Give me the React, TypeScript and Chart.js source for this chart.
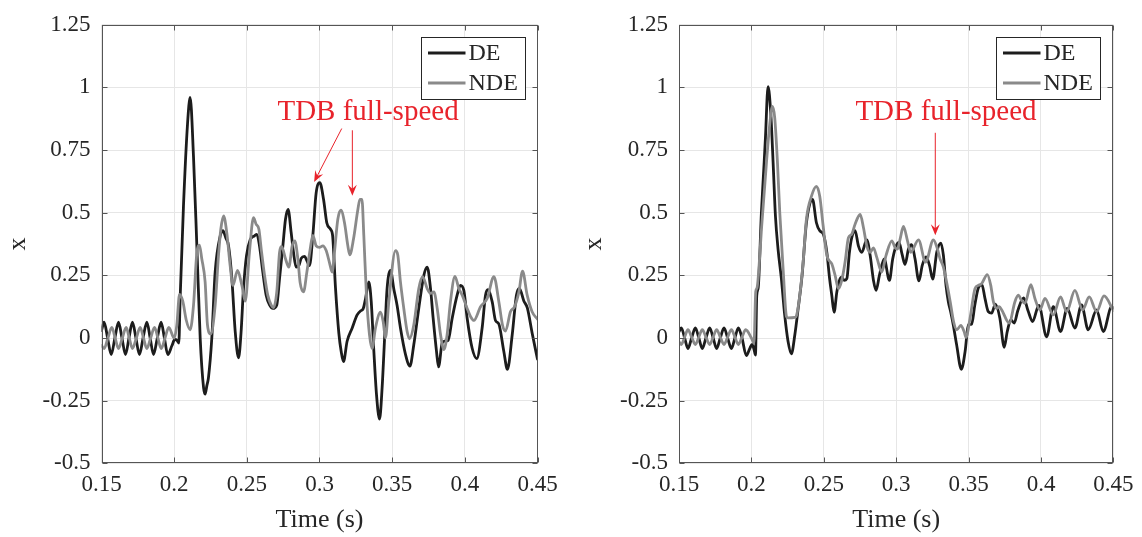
import React, { useEffect, useRef } from "react";
import { Chart, registerables } from "chart.js";

Chart.register(...registerables);

// Axis ticks shared by both panels
const xTicks = [0.15, 0.2, 0.25, 0.3, 0.35, 0.4, 0.45];
const xTickLabels = ["0.15", "0.2", "0.25", "0.3", "0.35", "0.4", "0.45"];
const yTicks = [-0.5, -0.25, 0, 0.25, 0.5, 0.75, 1, 1.25];
const yTickLabels = ["-0.5", "-0.25", "0", "0.25", "0.5", "0.75", "1", "1.25"];
const seriesNames = ["DE", "NDE"];
const xTitle = "Time (s)";
const yTitle = "x";
const noteText = "TDB full-speed";

// Left panel, DE response
const leftDeTime = [
  0.15, 0.1518, 0.1542, 0.1567, 0.1592, 0.1617, 0.1641, 0.1665, 0.1689, 0.1713, 0.1737, 0.1761,
  0.1786, 0.1812, 0.1835, 0.1858, 0.1884, 0.191, 0.1933, 0.1956, 0.1985, 0.2005, 0.202, 0.2032,
  0.2041, 0.2064, 0.2092, 0.211, 0.2133, 0.2156, 0.2179, 0.2202, 0.2213, 0.2225, 0.2236, 0.2259,
  0.2282, 0.2317, 0.2335, 0.2355, 0.2374, 0.2397, 0.242, 0.2443, 0.246, 0.2477, 0.2498, 0.2523,
  0.2553, 0.2569, 0.2587, 0.261, 0.2633, 0.2656, 0.2679, 0.2706, 0.2725, 0.2748, 0.2766, 0.2784,
  0.2805, 0.2821, 0.2839, 0.2858, 0.2874, 0.2897, 0.2913, 0.2931, 0.2954, 0.2977, 0.3002, 0.3028,
  0.305, 0.3076, 0.309, 0.311, 0.3133, 0.3149, 0.3165, 0.319, 0.3225, 0.3259, 0.3282, 0.33,
  0.3317, 0.3339, 0.3356, 0.3374, 0.3392, 0.3413, 0.3431, 0.3449, 0.3465, 0.3489, 0.3511, 0.3534,
  0.3557, 0.3592, 0.3622, 0.3649, 0.3683, 0.3718, 0.3741, 0.3764, 0.3782, 0.3805, 0.3819, 0.3844,
  0.3862, 0.3885, 0.3913, 0.3947, 0.397, 0.3993, 0.4016, 0.405, 0.4082, 0.4119, 0.4142, 0.4158,
  0.4188, 0.4211, 0.4234, 0.4268, 0.4293, 0.4326, 0.4355, 0.4375, 0.4406, 0.443, 0.4463, 0.45,
];
const leftDeValue = [
  0.03, 0.063, 0.0, -0.066, 0.0, 0.063, 0.0, -0.066, 0.0, 0.063, 0.0, -0.066,
  0.0, 0.063, 0.0, -0.066, 0.0, 0.063, 0.0, -0.066, -0.03, -0.005, -0.01, -0.02,
  0.158, 0.526, 0.855, 0.96, 0.724, 0.368, 0.0, -0.197, -0.224, -0.19, -0.158, 0.0,
  0.263, 0.408, 0.428, 0.4, 0.368, 0.237, 0.026, -0.079, 0.02, 0.197, 0.33, 0.392,
  0.408, 0.414, 0.368, 0.263, 0.171, 0.132, 0.118, 0.132, 0.237, 0.368, 0.474, 0.513,
  0.421, 0.342, 0.283, 0.289, 0.318, 0.326, 0.309, 0.289, 0.408, 0.579, 0.62, 0.553,
  0.46, 0.434, 0.41, 0.2, 0.02, -0.053, -0.094, -0.013, 0.04, 0.092, 0.108, 0.116,
  0.158, 0.224, 0.145, -0.053, -0.224, -0.324, -0.197, 0.013, 0.197, 0.27, 0.197, 0.13,
  0.04, -0.066, -0.112, -0.026, 0.118, 0.25, 0.283, 0.197, 0.079, -0.053, -0.115, -0.02,
  -0.012, -0.01, 0.079, 0.171, 0.21, 0.19, 0.079, -0.04, -0.082, 0.04, 0.17, 0.193,
  0.145, 0.07, 0.056, -0.053, -0.125, 0.013, 0.171, 0.198, 0.148, 0.12, 0.02, -0.085,
];

// Left panel, NDE response
const leftNdeTime = [
  0.15, 0.1518, 0.1544, 0.1571, 0.1594, 0.1617, 0.1643, 0.167, 0.1691, 0.1713, 0.174, 0.1766,
  0.1789, 0.1812, 0.1838, 0.1865, 0.1888, 0.1911, 0.1937, 0.1963, 0.2, 0.2018, 0.2037, 0.206,
  0.2083, 0.211, 0.2133, 0.2156, 0.2174, 0.219, 0.2213, 0.2229, 0.2252, 0.2282, 0.2305, 0.2321,
  0.234, 0.2362, 0.2385, 0.2404, 0.2436, 0.2466, 0.2489, 0.2518, 0.2546, 0.2564, 0.2583, 0.2599,
  0.2622, 0.2644, 0.2667, 0.2683, 0.2706, 0.2725, 0.2739, 0.2766, 0.2789, 0.2812, 0.283, 0.2851,
  0.2867, 0.289, 0.2913, 0.2936, 0.2954, 0.2977, 0.3, 0.3023, 0.3046, 0.3069, 0.3087, 0.3103,
  0.3126, 0.3147, 0.3172, 0.3195, 0.3208, 0.3234, 0.3264, 0.3278, 0.3292, 0.3305, 0.3323, 0.3344,
  0.3362, 0.3385, 0.342, 0.3438, 0.3454, 0.3477, 0.3523, 0.3539, 0.3557, 0.358, 0.3603, 0.3619,
  0.3649, 0.3683, 0.371, 0.3741, 0.3764, 0.3787, 0.381, 0.3833, 0.3856, 0.3878, 0.3901, 0.3932,
  0.3959, 0.3982, 0.4016, 0.404, 0.4062, 0.4108, 0.4154, 0.42, 0.4234, 0.426, 0.428, 0.4314,
  0.4342, 0.4372, 0.4397, 0.4429, 0.4463, 0.45,
];
const leftNdeValue = [
  -0.03, -0.042, 0.0, 0.042, 0.0, -0.042, 0.0, 0.042, 0.0, -0.042, 0.0, 0.042,
  0.0, -0.042, 0.0, 0.042, 0.0, -0.042, 0.0, 0.042, 0.0, 0.05, 0.174, 0.145,
  0.072, 0.033, 0.13, 0.34, 0.371, 0.316, 0.224, 0.053, 0.016, 0.13, 0.33, 0.434,
  0.487, 0.42, 0.29, 0.21, 0.27, 0.21, 0.147, 0.342, 0.48, 0.454, 0.434, 0.355,
  0.25, 0.171, 0.132, 0.121, 0.184, 0.342, 0.366, 0.316, 0.283, 0.368, 0.388, 0.316,
  0.22, 0.184, 0.263, 0.355, 0.41, 0.368, 0.362, 0.368, 0.349, 0.3, 0.263, 0.342,
  0.474, 0.51, 0.46, 0.368, 0.332, 0.395, 0.513, 0.553, 0.553, 0.408, 0.171, 0.013,
  -0.042, 0.04, 0.103, 0.066, 0.0, 0.145, 0.349, 0.33, 0.224, 0.118, 0.026, -0.003,
  0.053, 0.197, 0.245, 0.197, 0.178, 0.184, 0.118, 0.013, -0.046, 0.013, 0.145, 0.246,
  0.197, 0.171, 0.118, 0.085, 0.07, 0.125, 0.158, 0.245, 0.145, 0.05, 0.028, 0.105,
  0.125, 0.184, 0.267, 0.171, 0.105, 0.075,
];

// Right panel, DE response
const rightDeTime = [
  0.15, 0.1516, 0.1539, 0.1562, 0.1587, 0.1613, 0.1637, 0.1661, 0.1686, 0.1712, 0.1736, 0.176,
  0.1785, 0.1811, 0.1836, 0.1862, 0.1886, 0.191, 0.1935, 0.1965, 0.199, 0.2005, 0.2018, 0.2028,
  0.2037, 0.2047, 0.2069, 0.2088, 0.2097, 0.2115, 0.2134, 0.215, 0.2166, 0.2184, 0.2207, 0.223,
  0.2253, 0.2276, 0.23, 0.2323, 0.235, 0.238, 0.2422, 0.2449, 0.2472, 0.2497, 0.2521, 0.254,
  0.2555, 0.2571, 0.259, 0.2608, 0.2624, 0.264, 0.2659, 0.2677, 0.2693, 0.2716, 0.2739, 0.2762,
  0.2797, 0.282, 0.2843, 0.2861, 0.2884, 0.2917, 0.2953, 0.2976, 0.3, 0.302, 0.304, 0.3061,
  0.3085, 0.3107, 0.313, 0.3157, 0.318, 0.3206, 0.323, 0.3252, 0.328, 0.3308, 0.3326, 0.3344,
  0.336, 0.3376, 0.3394, 0.3417, 0.345, 0.3476, 0.3498, 0.3521, 0.3543, 0.3567, 0.3592, 0.3613,
  0.3636, 0.3659, 0.3685, 0.3716, 0.3746, 0.3767, 0.3792, 0.3815, 0.384, 0.388, 0.391, 0.3942,
  0.3985, 0.4039, 0.4085, 0.4135, 0.4181, 0.4234, 0.428, 0.4326, 0.4384, 0.443, 0.4488, 0.45,
];
const rightDeValue = [
  0.025, 0.04, 0.0, -0.042, 0.0, 0.04, 0.0, -0.042, 0.0, 0.04, 0.0, -0.042,
  0.0, 0.04, 0.0, -0.042, 0.0, 0.04, 0.0, -0.07, -0.04, -0.025, -0.045, -0.068,
  0.17, 0.2, 0.5, 0.7, 0.8, 1.003, 0.895, 0.7, 0.487, 0.355, 0.237, 0.092,
  -0.013, -0.063, 0.013, 0.118, 0.25, 0.46, 0.553, 0.46, 0.428, 0.414, 0.342, 0.237,
  0.171, 0.103, 0.184, 0.23, 0.243, 0.23, 0.237, 0.342, 0.4, 0.428, 0.368, 0.342,
  0.392, 0.33, 0.23, 0.19, 0.25, 0.316, 0.23, 0.316, 0.368, 0.382, 0.336, 0.294,
  0.355, 0.373, 0.316, 0.228, 0.29, 0.324, 0.29, 0.235, 0.342, 0.379, 0.33, 0.21,
  0.145, 0.105, 0.053, -0.026, -0.125, -0.053, 0.053, 0.055, 0.132, 0.2, 0.213, 0.158,
  0.105, 0.099, 0.135, 0.079, -0.037, 0.026, 0.072, 0.06, 0.11, 0.16, 0.11, 0.066,
  0.13, 0.005, 0.125, 0.026, 0.118, 0.04, 0.132, 0.033, 0.112, 0.026, 0.125, 0.12,
];

// Right panel, NDE response
const rightNdeTime = [
  0.15, 0.1516, 0.1539, 0.1562, 0.1587, 0.1613, 0.1637, 0.1661, 0.1686, 0.1712, 0.1736, 0.176,
  0.1785, 0.1811, 0.1836, 0.1862, 0.1886, 0.191, 0.1935, 0.1961, 0.2, 0.2018, 0.203, 0.2039,
  0.2058, 0.2069, 0.2104, 0.2127, 0.2145, 0.2161, 0.218, 0.2196, 0.2219, 0.2242, 0.2253, 0.23,
  0.2312, 0.2334, 0.2357, 0.238, 0.2415, 0.2449, 0.2472, 0.2495, 0.2521, 0.2555, 0.2578, 0.2601,
  0.2624, 0.2647, 0.267, 0.2693, 0.2716, 0.2751, 0.2774, 0.2797, 0.282, 0.2843, 0.2866, 0.29,
  0.293, 0.297, 0.2993, 0.3009, 0.3027, 0.305, 0.3078, 0.31, 0.3154, 0.3203, 0.3257, 0.3285,
  0.3303, 0.3326, 0.335, 0.3373, 0.3396, 0.3419, 0.3446, 0.3469, 0.3482, 0.351, 0.3544, 0.3567,
  0.359, 0.3629, 0.3653, 0.3671, 0.3694, 0.3712, 0.3729, 0.378, 0.382, 0.3843, 0.3866, 0.3889,
  0.393, 0.3958, 0.3993, 0.4027, 0.4085, 0.4135, 0.4177, 0.4234, 0.4287, 0.4333, 0.4384, 0.4435,
  0.45,
];
const rightNdeValue = [
  -0.015, -0.026, 0.004, 0.033, 0.004, -0.026, 0.004, 0.033, 0.004, -0.026, 0.004, 0.033,
  0.004, -0.026, 0.004, 0.033, 0.004, -0.026, 0.004, 0.033, 0.0, -0.02, 0.185, 0.2,
  0.33, 0.43, 0.7, 0.855, 0.924, 0.88, 0.7, 0.5, 0.276, 0.086, 0.08, 0.082,
  0.09, 0.17, 0.3, 0.474, 0.566, 0.605, 0.566, 0.45, 0.33, 0.296, 0.25, 0.197,
  0.23, 0.303, 0.4, 0.414, 0.454, 0.493, 0.44, 0.368, 0.342, 0.36, 0.322, 0.263,
  0.33, 0.388, 0.36, 0.355, 0.395, 0.445, 0.388, 0.342, 0.392, 0.303, 0.392, 0.355,
  0.316, 0.283, 0.217, 0.145, 0.066, 0.033, 0.05, 0.026, 0.003, 0.079, 0.197, 0.21,
  0.217, 0.253, 0.21, 0.145, 0.118, 0.125, 0.112, 0.06, 0.145, 0.171, 0.15, 0.138,
  0.213, 0.158, 0.112, 0.158, 0.092, 0.164, 0.105, 0.19, 0.112, 0.164, 0.105, 0.168,
  0.11,
];

// Callout arrows in data units: [tailTime, tailValue, tipTime, tipValue]
const leftArrows = [
  [0.3153, 0.836, 0.2963, 0.623],
  [0.3226, 0.829, 0.3226, 0.568],
];
const rightArrows = [[0.327, 0.819, 0.327, 0.41]];
const leftNoteAt = [0.3334, 0.87];
const rightNoteAt = [0.3344, 0.87];

const FONT = "'Liberation Serif', 'Times New Roman', serif";
const INK = "#262626";
const DE_COLOR = "#1c1c1c";
const NDE_COLOR = "#8a8a8a";
const NOTE_COLOR = "#e8232b";
const LINE_W = 2.8;

const zip = (t: number[], v: number[]) => t.map((x, i) => ({ x, y: v[i] }));

type NoteOpts = { at: number[]; arrows: number[][] };

// Box frame with inward ticks, legend and the red callout
const framePlugin = {
  id: "frame",
  afterDatasetsDraw(chart: any, _args: any, opts: NoteOpts) {
    const { ctx, chartArea: a, scales } = chart;
    const sx = scales.x;
    const sy = scales.y;
    const L = Math.round(a.left) + 0.5;
    const R = Math.round(a.right) - 0.5;
    const T = Math.round(a.top) + 0.5;
    const B = Math.round(a.bottom) - 0.5;
    const tick = 5;
    ctx.save();
    ctx.strokeStyle = "#555555";
    ctx.lineWidth = 1;
    ctx.strokeRect(L, T, R - L, B - T);
    ctx.beginPath();
    for (const v of xTicks) {
      const px = Math.round(sx.getPixelForValue(v)) + 0.5;
      ctx.moveTo(px, B);
      ctx.lineTo(px, B - tick);
      ctx.moveTo(px, T);
      ctx.lineTo(px, T + tick);
    }
    for (const v of yTicks) {
      const py = Math.round(sy.getPixelForValue(v)) + 0.5;
      ctx.moveTo(L, py);
      ctx.lineTo(L + tick, py);
      ctx.moveTo(R, py);
      ctx.lineTo(R - tick, py);
    }
    ctx.stroke();

    // legend box
    const boxW = 104;
    const boxH = 62;
    const bx = Math.round(a.right - 13 - boxW) + 0.5;
    const by = Math.round(a.top + 12) + 0.5;
    ctx.fillStyle = "#ffffff";
    ctx.fillRect(bx, by, boxW, boxH);
    ctx.strokeStyle = INK;
    ctx.strokeRect(bx, by, boxW, boxH);
    const colors = [DE_COLOR, NDE_COLOR];
    ctx.font = `24px ${FONT}`;
    ctx.textBaseline = "middle";
    ctx.textAlign = "left";
    seriesNames.forEach((name, i) => {
      const ly = by + 15.5 + i * 30;
      ctx.strokeStyle = colors[i];
      ctx.lineWidth = LINE_W;
      ctx.beginPath();
      ctx.moveTo(bx + 6.5, ly);
      ctx.lineTo(bx + 44, ly);
      ctx.stroke();
      ctx.fillStyle = INK;
      ctx.fillText(name, bx + 47, ly + 1);
    });

    // callout
    if (opts && opts.at) {
      ctx.fillStyle = NOTE_COLOR;
      ctx.strokeStyle = NOTE_COLOR;
      ctx.font = `29px ${FONT}`;
      ctx.textAlign = "center";
      ctx.textBaseline = "alphabetic";
      ctx.fillText(noteText, sx.getPixelForValue(opts.at[0]), sy.getPixelForValue(opts.at[1]));
      for (const [t0, v0, t1, v1] of opts.arrows) {
        const x0 = sx.getPixelForValue(t0);
        const y0 = sy.getPixelForValue(v0);
        const x1 = sx.getPixelForValue(t1);
        const y1 = sy.getPixelForValue(v1);
        const ang = Math.atan2(y1 - y0, x1 - x0);
        const len = 11;
        const half = 4.5;
        const ux = Math.cos(ang);
        const uy = Math.sin(ang);
        const bxp = x1 - ux * len;
        const byp = y1 - uy * len;
        ctx.lineWidth = 1;
        ctx.beginPath();
        ctx.moveTo(x0, y0);
        ctx.lineTo(x1 - ux * 6, y1 - uy * 6);
        ctx.stroke();
        ctx.beginPath();
        ctx.moveTo(x1, y1);
        ctx.lineTo(bxp - uy * half, byp + ux * half);
        ctx.lineTo(x1 - ux * 7, y1 - uy * 7);
        ctx.lineTo(bxp + uy * half, byp - ux * half);
        ctx.closePath();
        ctx.fill();
      }
    }
    ctx.restore();
  },
};

function makeConfig(de: any[], nde: any[], yAxisWidth: number, yTitlePad: number, note: NoteOpts, padRight: number): any {
  return {
    type: "line",
    data: {
      datasets: [
        { label: seriesNames[0], data: de, borderColor: DE_COLOR, borderWidth: LINE_W, order: 1 },
        { label: seriesNames[1], data: nde, borderColor: NDE_COLOR, borderWidth: LINE_W, order: 0 },
      ],
    },
    options: {
      responsive: false,
      animation: false,
      devicePixelRatio: 1,
      elements: {
        point: { radius: 0 },
        line: { cubicInterpolationMode: "monotone", fill: false, borderJoinStyle: "round", borderCapStyle: "round" },
      },
      layout: { padding: { top: 20, left: 0, right: padRight, bottom: 0 } },
      plugins: {
        legend: { display: false },
        tooltip: { enabled: false },
        frame: note,
      },
      scales: {
        x: {
          type: "linear",
          min: 0.15,
          max: 0.45,
          afterBuildTicks: (s: any) => {
            s.ticks = xTicks.map((value) => ({ value }));
          },
          afterFit: (s: any) => {
            s.height = 73.7;
          },
          grid: { color: "#e6e6e6", lineWidth: 1, drawTicks: false },
          border: { display: false },
          ticks: {
            autoSkip: false,
            maxRotation: 0,
            padding: 8,
            color: INK,
            font: { family: FONT, size: 23 },
            callback: (_v: any, i: number) => xTickLabels[i],
          },
          title: {
            display: true,
            text: xTitle,
            color: INK,
            font: { family: FONT, size: 26 },
            padding: { top: 0, bottom: 1 },
          },
        },
        y: {
          type: "linear",
          min: -0.5,
          max: 1.25,
          afterBuildTicks: (s: any) => {
            s.ticks = yTicks.map((value) => ({ value }));
          },
          afterFit: (s: any) => {
            s.width = yAxisWidth;
          },
          grid: { color: "#e6e6e6", lineWidth: 1, drawTicks: false },
          border: { display: false },
          ticks: {
            autoSkip: false,
            padding: 11,
            color: INK,
            font: { family: FONT, size: 23 },
            callback: (_v: any, i: number) => yTickLabels[i],
          },
          title: {
            display: true,
            text: yTitle,
            color: INK,
            font: { family: FONT, size: 26 },
            padding: { top: yTitlePad, bottom: 0 },
          },
        },
      },
    },
    plugins: [framePlugin],
  };
}

function Panel(props: { left: number; config: () => any }) {
  const ref = useRef<HTMLCanvasElement | null>(null);
  useEffect(() => {
    if (!ref.current) return;
    const chart = new Chart(ref.current, props.config());
    return () => chart.destroy();
  }, []);
  return (
    <canvas
      ref={ref}
      width={571}
      height={537}
      style={{ position: "absolute", left: props.left, top: 0, width: 571, height: 537 }}
    />
  );
}

export default function App() {
  return (
    <div
      style={{
        position: "absolute",
        left: 0,
        top: 0,
        width: 1142,
        height: 537,
        background: "#ffffff",
        overflow: "hidden",
      }}
    >
      <Panel
        left={0}
        config={() =>
          makeConfig(
            zip(leftDeTime, leftDeValue),
            zip(leftNdeTime, leftNdeValue),
            101.5,
            3,
            { at: leftNoteAt, arrows: leftArrows },
            33.5
          )
        }
      />
      <Panel
        left={571}
        config={() =>
          makeConfig(
            zip(rightDeTime, rightDeValue),
            zip(rightNdeTime, rightNdeValue),
            108,
            8,
            { at: rightNoteAt, arrows: rightArrows },
            28.6
          )
        }
      />
    </div>
  );
}
